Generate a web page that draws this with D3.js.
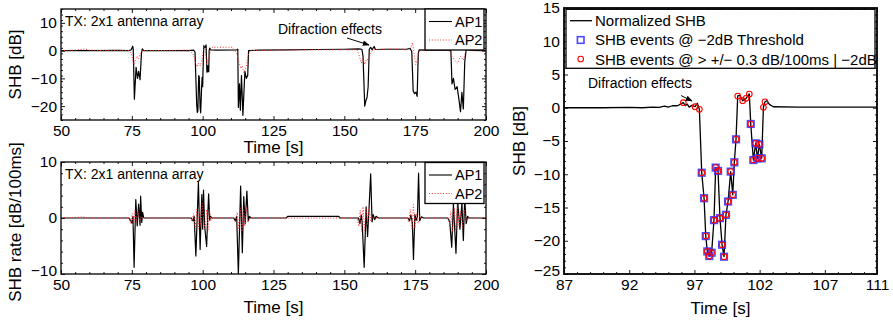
<!DOCTYPE html>
<html>
<head>
<meta charset="utf-8">
<script src="https://cdn.jsdelivr.net/npm/d3@7"></script>
<style>
  body { margin: 0; background: #fff; }
  svg { display: block; font-family: 'Liberation Sans', Arial, Helvetica, sans-serif; }
  .tick text { font-size: 15.5px; fill: #000; }
  .lbl { font-size: 17px; }
  .note { font-size: 14px; }
  .leg { font-size: 14.5px; }
  .zleg { font-size: 15px; }
</style>
</head>
<body>
<svg id="chart" width="893" height="324"></svg>
<script>
// ---- data: [time s, value] ----
const ap1Shb = [[50,0],[60,0],[70,0.1],[74,0],[74.8,0.3],[75.3,1.6],[75.5,0.5],[75.9,-17.5],[76.5,-6],[77.0,-10],[77.4,-7.5],[77.9,-10.5],[78.4,-1],[78.7,0.6],[79.2,0],[85,0],[95,0],[96.8,0.2],[97.3,-0.5],[97.6,-10],[97.9,-19.5],[98.1,-22.3],[98.3,-21.8],[98.6,-9],[98.8,-9.5],[99.1,-20.6],[99.3,-22.4],[99.6,-14],[99.8,-9.6],[100.0,-13],[100.1,-8.2],[100.2,-4.8],[100.4,1.8],[100.7,1.1],[101.0,1.3],[101.2,2.1],[101.35,-2.4],[101.5,-7.8],[101.6,-5.4],[101.8,-7.6],[101.95,-5.5],[102.15,-7.6],[102.3,0.1],[102.5,0.9],[102.8,0.3],[105,0.2],[112,0.3],[112.4,0.5],[112.6,-20.5],[113.0,-12],[113.3,-21.5],[113.7,-9],[114.2,-23.3],[114.9,-7.5],[115.4,-10],[115.9,-9],[116.2,0],[120,0.2],[130,0.3],[140,0.4],[150,0.5],[155,0.6],[156.2,0.5],[156.6,-2],[157.2,-20],[157.6,-18],[158.0,-17],[158.4,-13],[158.8,0.5],[159.3,1.2],[159.8,0.3],[160.5,1.5],[161,0.4],[165,0.5],[172,0.5],[173.2,0.8],[173.8,-0.3],[174.3,-14.5],[174.8,-15.5],[175.3,-15],[175.7,-16.5],[176.1,-1],[176.4,0.3],[180,0.2],[187,0.2],[187.6,0],[188,-12],[188.5,-10],[189.1,-14],[189.8,-13],[190.5,-18],[191,-22],[191.5,-15],[192,-21],[192.5,-4],[193,0.4],[195,0.1],[200,0]];
const ap2Shb = [[50,0],[55,0.2],[58,0.6],[60,0.2],[65,0],[70,0.1],[74,0],[74.8,-1],[75.3,-3],[75.7,-5.5],[76.2,-3.5],[76.8,-2],[77.4,-3],[78,-1],[78.6,0],[85,0],[95,0.2],[96,-0.5],[96.8,-1.5],[97.4,-4],[98.0,-5.8],[98.6,-4.5],[99.2,-5.5],[99.8,-3],[100.4,1.2],[100.9,0.8],[101.4,-4.6],[101.9,-3.5],[102.4,-1.5],[102.9,0.5],[103.5,1.2],[110.5,1.2],[111,0.5],[112,-1],[112.8,-4],[113.5,-6.5],[114,-5.5],[114.5,-8],[115.3,-6],[116,-2],[116.6,0],[125,0.2],[140,0.3],[150,0.3],[154.5,0.3],[155.3,-2],[156,-4.5],[156.6,-2.5],[157.2,-5],[157.8,-3],[158.5,-3.5],[159.3,-1],[160,0.3],[165,0.6],[170,0.6],[172,0.2],[173.5,1],[174.1,2.8],[174.6,-1],[175.2,-5],[175.8,-3],[176.5,0],[180,0.1],[186,0.2],[187,0],[188,-2],[189,-3.5],[190,-4.5],[191,-2],[192,-3.5],[193,0.5],[194,0],[200,0]];

const ap1Rate = [[50,0],[74,0],[74.6,-0.5],[75,-0.9],[75.4,0.3],[75.8,-8.8],[76.4,3.3],[76.9,-1.4],[77.4,2.5],[77.9,-1.3],[78.1,3.9],[78.5,-0.8],[78.8,1],[79.2,0],[96,0],[96.6,-0.5],[97.0,0.3],[97.6,-6.8],[98.5,6.4],[99.1,-5.6],[99.7,4.2],[100.0,-2],[100.3,5.0],[100.7,-1.5],[101.4,-5.1],[101.8,0.5],[102.1,4.3],[102.5,-0.4],[102.8,0.3],[103.2,0],[111,0],[111.5,-0.5],[112.0,0.3],[112.6,-10],[113.4,5.7],[114.0,-6.2],[114.5,3.8],[115.0,-1],[115.6,4.8],[116.1,-0.5],[116.5,0.3],[117,0],[129.5,0],[130,0.3],[148,0.3],[148.5,0],[155,0],[155.5,-1],[156,0.5],[156.3,-0.8],[157,-8.8],[157.7,2],[158.2,-3.3],[158.6,0.5],[159.3,7.9],[159.8,-0.7],[160.2,0.6],[160.7,-0.3],[161.2,0.3],[162,0],[172.5,0],[173,-0.5],[173.5,0.5],[174,-0.8],[174.4,-7.4],[174.9,0.6],[175.4,-0.4],[175.8,0.3],[176.2,8.0],[176.6,-0.5],[177.2,0.2],[178,0],[186.5,0],[187.2,-0.6],[187.9,-5.2],[188.5,2.5],[189.4,-6.3],[190,3],[190.8,-2],[191.5,2.7],[192,-4],[192.5,3.5],[193,-1],[193.5,0.3],[194,0],[200,0]];
const ap2Rate = [[50,0],[58,0.2],[60,0],[74,0],[74.6,-1],[75.1,0.8],[75.6,-1.5],[76.1,1.5],[76.6,-0.8],[77.2,1.2],[77.8,-0.5],[78.5,0.3],[79,0],[95.5,0],[96.2,-0.6],[96.8,0.8],[97.3,-1.8],[97.9,1.5],[98.4,-2],[98.9,2.2],[99.4,-1.5],[99.9,2.6],[100.4,-0.5],[100.9,-2],[101.4,1.5],[101.9,-2.2],[102.4,1.5],[102.9,-0.5],[103.5,0],[111,0],[111.6,-0.8],[112.2,1],[112.8,-2],[113.3,1.8],[113.9,-2.4],[114.4,1.6],[114.9,-1.5],[115.4,2],[116,-0.8],[116.6,0],[154.5,0],[155.1,-1.5],[155.6,1.4],[156.1,-2.4],[156.6,2],[157.1,-2.2],[157.7,1.6],[158.2,-1.3],[158.7,2.0],[159.3,-0.6],[159.9,0.3],[160.5,0],[172,0],[172.7,-0.8],[173.3,1.5],[173.9,-2],[174.4,2.4],[174.9,-1.8],[175.4,0.8],[176,-1],[176.5,0.4],[177,0],[186.5,0],[187.1,-1],[187.6,1.2],[188.2,-2.5],[188.8,1.8],[189.3,-2.2],[189.9,2.2],[190.5,-1.5],[191.1,1.2],[191.7,-1.8],[192.3,1.5],[193,-0.5],[193.6,0],[200,0]];

const normShb = [[87,0],[90,0],[92,0.05],[93,0],[93.8,0.1],[94.3,0.05],[94.7,0.25],[95,0.1],[95.3,0.3],[95.7,0.3],[95.9,0.5],[96.15,0.76],[96.3,0.3],[96.45,0.55],[96.6,0.1],[96.8,0.35],[97.05,0.16],[97.22,0.67],[97.38,-0.23],[97.56,-9.77],[97.74,-13.6],[97.87,-19.3],[97.99,-21.6],[98.14,-22.3],[98.32,-21.8],[98.5,-16.9],[98.63,-9.0],[98.81,-9.5],[98.96,-16.6],[99.12,-20.6],[99.27,-22.4],[99.42,-16.1],[99.58,-14.1],[99.78,-9.6],[99.94,-13.1],[100.06,-8.2],[100.19,-4.75],[100.32,1.77],[100.5,1.85],[100.7,1.06],[100.96,1.41],[101.21,2.07],[101.32,-2.44],[101.52,-7.86],[101.7,-5.35],[101.83,-7.6],[101.98,-5.5],[102.16,-7.6],[102.29,0.07],[102.41,0.9],[102.55,1.06],[102.75,0.5],[103.05,0.15],[105,0.1],[111,0.1]];
const thresholdEvents = [[97.56,-9.77],[97.74,-13.6],[97.87,-19.3],[97.99,-21.6],[98.14,-22.3],[98.32,-21.8],[98.5,-16.9],[98.63,-9.0],[98.81,-9.5],[98.96,-16.6],[99.12,-20.6],[99.27,-22.4],[99.42,-16.1],[99.58,-14.1],[99.78,-9.6],[99.94,-13.1],[100.06,-8.2],[100.19,-4.75],[101.32,-2.44],[101.52,-7.86],[101.7,-5.35],[101.83,-7.6],[101.98,-5.5],[102.16,-7.6]];
const rateEvents = [[96.15,0.76],[97.05,0.16],[97.38,-0.23]].concat(thresholdEvents,
  [[100.32,1.77],[100.7,1.06],[100.96,1.41],[101.21,2.07],[102.29,0.07],[102.41,0.9]]);

// tick labels
const timeTicks = [50, 75, 100, 125, 150, 175, 200];
const shbTicks = [-20, -10, 0, 10];
const rateTicks = [-10, 0, 10];
const zoomTimeTicks = [87, 92, 97, 102, 107, 111];
const zoomShbTicks = [-25, -20, -15, -10, -5, 0, 5, 10, 15];

const svg = d3.select('#chart');

// arrow head for the annotations
svg.append('defs').append('marker')
  .attr('id', 'arrow').attr('viewBox', '0 0 10 10')
  .attr('refX', 9).attr('refY', 5)
  .attr('markerWidth', 7).attr('markerHeight', 7)
  .attr('markerUnits', 'userSpaceOnUse')
  .attr('orient', 'auto')
  .append('path').attr('d', 'M0,1 L10,5 L0,9 Z').attr('fill', '#000');

function ticks(axisFn, scale, values, size, labels, transform) {
  const g = svg.append('g')
    .attr('transform', transform)
    .call(axisFn(scale).tickValues(values).tickSize(-size).tickPadding(4)
      .tickFormat(labels ? d3.format('') : ''));
  g.attr('font-size', null).attr('font-family', null);
  g.select('.domain').remove();
  g.selectAll('line').attr('stroke', '#000').attr('stroke-width', 0.9);
  return g;
}

// one boxed axes with inward ticks on all four sides
function panel(box, xDomain, yDomain, xMajor, yMajor, xStep, yStep, frameWidth) {
  const x = d3.scaleLinear().domain(xDomain).range([box.left, box.right]);
  const y = d3.scaleLinear().domain(yDomain).range([box.bottom, box.top]);
  const xMinor = d3.range(xDomain[0], xDomain[1] + 1e-9, xStep).filter(v => !xMajor.includes(v));
  const yMinor = d3.range(yDomain[0], yDomain[1] + 1e-9, yStep).filter(v => !yMajor.includes(v));

  ticks(d3.axisBottom, x, xMajor, 4, true, `translate(0,${box.bottom})`)
    .selectAll('text').attr('y', 5);
  ticks(d3.axisBottom, x, xMinor, 2, false, `translate(0,${box.bottom})`);
  ticks(d3.axisTop, x, xMajor, 4, false, `translate(0,${box.top})`);
  ticks(d3.axisTop, x, xMinor, 2, false, `translate(0,${box.top})`);
  // lowest y label sits a little higher, as in the original
  ticks(d3.axisLeft, y, yMajor, 4, true, `translate(${box.left},0)`)
    .selectAll('text').filter(d => d === yDomain[0]).attr('dy', '0.1em');
  ticks(d3.axisLeft, y, yMinor, 2, false, `translate(${box.left},0)`);
  ticks(d3.axisRight, y, yMajor, 4, false, `translate(${box.right},0)`);
  ticks(d3.axisRight, y, yMinor, 2, false, `translate(${box.right},0)`);

  const id = 'clip' + box.left + box.top;
  svg.append('clipPath').attr('id', id).append('rect')
    .attr('x', box.left).attr('y', box.top)
    .attr('width', box.right - box.left).attr('height', box.bottom - box.top);
  const plot = svg.append('g').attr('clip-path', `url(#${id})`);

  const frame = () => svg.append('rect')
    .attr('x', box.left).attr('y', box.top)
    .attr('width', box.right - box.left).attr('height', box.bottom - box.top)
    .attr('fill', 'none').attr('stroke', '#000').attr('stroke-width', frameWidth);
  return { x, y, plot, frame };
}

function drawLine(p, data, color, width, dash) {
  p.plot.append('path')
    .datum(data)
    .attr('fill', 'none')
    .attr('stroke', color)
    .attr('stroke-width', width)
    .attr('stroke-dasharray', dash)
    .attr('stroke-linejoin', 'round')
    .attr('d', d3.line().x(d => p.x(d[0])).y(d => p.y(d[1])));
}

function label(text, x, y, rotate) {
  svg.append('text').attr('class', 'lbl')
    .attr('transform', `translate(${x},${y})` + (rotate ? ' rotate(-90)' : ''))
    .attr('text-anchor', 'middle')
    .text(text);
}

const AP2_COLOR = '#ff3030';

function apLegend(top) {
  const g = svg.append('g');
  g.append('rect').attr('x', 425).attr('y', top).attr('width', 59).attr('height', 41)
    .attr('fill', '#fff').attr('stroke', '#000').attr('stroke-width', 1.3);
  [['AP1', '#000', null], ['AP2', AP2_COLOR, '1,1.8']].forEach((e, i) => {
    const cy = top + 12.5 + i * 18.5;
    g.append('line').attr('x1', 429).attr('x2', 452).attr('y1', cy).attr('y2', cy)
      .attr('stroke', e[1]).attr('stroke-width', 1.1).attr('stroke-dasharray', e[2]);
    g.append('text').attr('class', 'leg').attr('x', 455).attr('y', cy + 5).text(e[0]);
  });
}

// ---- SHB vs time ----
const shb = panel({ left: 61, right: 486, top: 9, bottom: 120 }, [50, 200], [-25, 15],
  timeTicks, shbTicks, 5, 2, 1.3);
drawLine(shb, ap1Shb, '#000', 1.2, null);
drawLine(shb, ap2Shb, AP2_COLOR, 1, '1,1.8');
shb.frame();
apLegend(9);
label('Time [s]', 273.5, 153, false);
label('SHB [dB]', 21, 64.5, true);
svg.append('text').attr('class', 'note').attr('x', 65).attr('y', 25.5).text('TX: 2x1 antenna array');
svg.append('text').attr('class', 'note').attr('x', 278).attr('y', 34.3).text('Difraction effects');
svg.append('line').attr('x1', 347).attr('y1', 38).attr('x2', 369).attr('y2', 45)
  .attr('stroke', '#000').attr('stroke-width', 1).attr('marker-end', 'url(#arrow)');

// ---- SHB rate vs time ----
const rate = panel({ left: 61, right: 486, top: 162, bottom: 274 }, [50, 200], [-10, 10],
  timeTicks, rateTicks, 5, 2, 1.3);
drawLine(rate, ap1Rate, '#000', 1.2, null);
drawLine(rate, ap2Rate, AP2_COLOR, 1, '1,1.8');
rate.frame();
apLegend(162.5);
label('Time [s]', 273.5, 313, false);
label('SHB rate [dB/100ms]', 21, 222, true);
svg.append('text').attr('class', 'note').attr('x', 65).attr('y', 179).text('TX: 2x1 antenna array');

// ---- zoom on one event ----
const zoom = panel({ left: 564, right: 877, top: 8, bottom: 274 }, [87, 111], [-25, 15],
  zoomTimeTicks, zoomShbTicks, 1, 1, 1.8);
drawLine(zoom, normShb, '#000', 1.3, null);
zoom.plot.selectAll('rect.ev').data(thresholdEvents).enter().append('rect')
  .attr('class', 'ev')
  .attr('x', d => zoom.x(d[0]) - 3.3).attr('y', d => zoom.y(d[1]) - 3.3)
  .attr('width', 6.6).attr('height', 6.6)
  .attr('fill', 'none').attr('stroke', '#2a2aff').attr('stroke-width', 1.6).attr('opacity', 0.85);
zoom.plot.selectAll('circle.ev').data(rateEvents).enter().append('circle')
  .attr('class', 'ev')
  .attr('cx', d => zoom.x(d[0])).attr('cy', d => zoom.y(d[1])).attr('r', 2.8)
  .attr('fill', 'none').attr('stroke', '#ff0000').attr('stroke-width', 1.1);
zoom.frame();

// legend
const zl = svg.append('g');
zl.append('rect').attr('x', 566).attr('y', 9.3).attr('width', 309).attr('height', 59)
  .attr('fill', '#fff').attr('stroke', '#000').attr('stroke-width', 1.3);
zl.append('line').attr('x1', 570).attr('x2', 592).attr('y1', 20.7).attr('y2', 20.7)
  .attr('stroke', '#000').attr('stroke-width', 1.3);
zl.append('rect').attr('x', 577.4).attr('y', 36.7).attr('width', 6.6).attr('height', 6.6)
  .attr('fill', 'none').attr('stroke', '#2a2aff').attr('stroke-width', 1.6).attr('opacity', 0.85);
zl.append('circle').attr('cx', 580.7).attr('cy', 59).attr('r', 2.8)
  .attr('fill', 'none').attr('stroke', '#ff0000').attr('stroke-width', 1.1);
['Normalized SHB', 'SHB events @ \u22122dB Threshold', 'SHB events @ > +/\u2212 0.3 dB/100ms | \u22122dB']
  .forEach((t, i) => zl.append('text').attr('class', 'zleg').attr('x', 595).attr('y', 26 + i * 19.3).text(t));

label('Time [s]', 720.5, 314, false);
label('SHB [dB]', 525, 141, true);
svg.append('text').attr('class', 'note').attr('x', 588).attr('y', 88).text('Difraction effects');
svg.append('line').attr('x1', 681).attr('y1', 95.5).attr('x2', 692).attr('y2', 101)
  .attr('stroke', '#000').attr('stroke-width', 1).attr('marker-end', 'url(#arrow)');
</script>
</body>
</html>
